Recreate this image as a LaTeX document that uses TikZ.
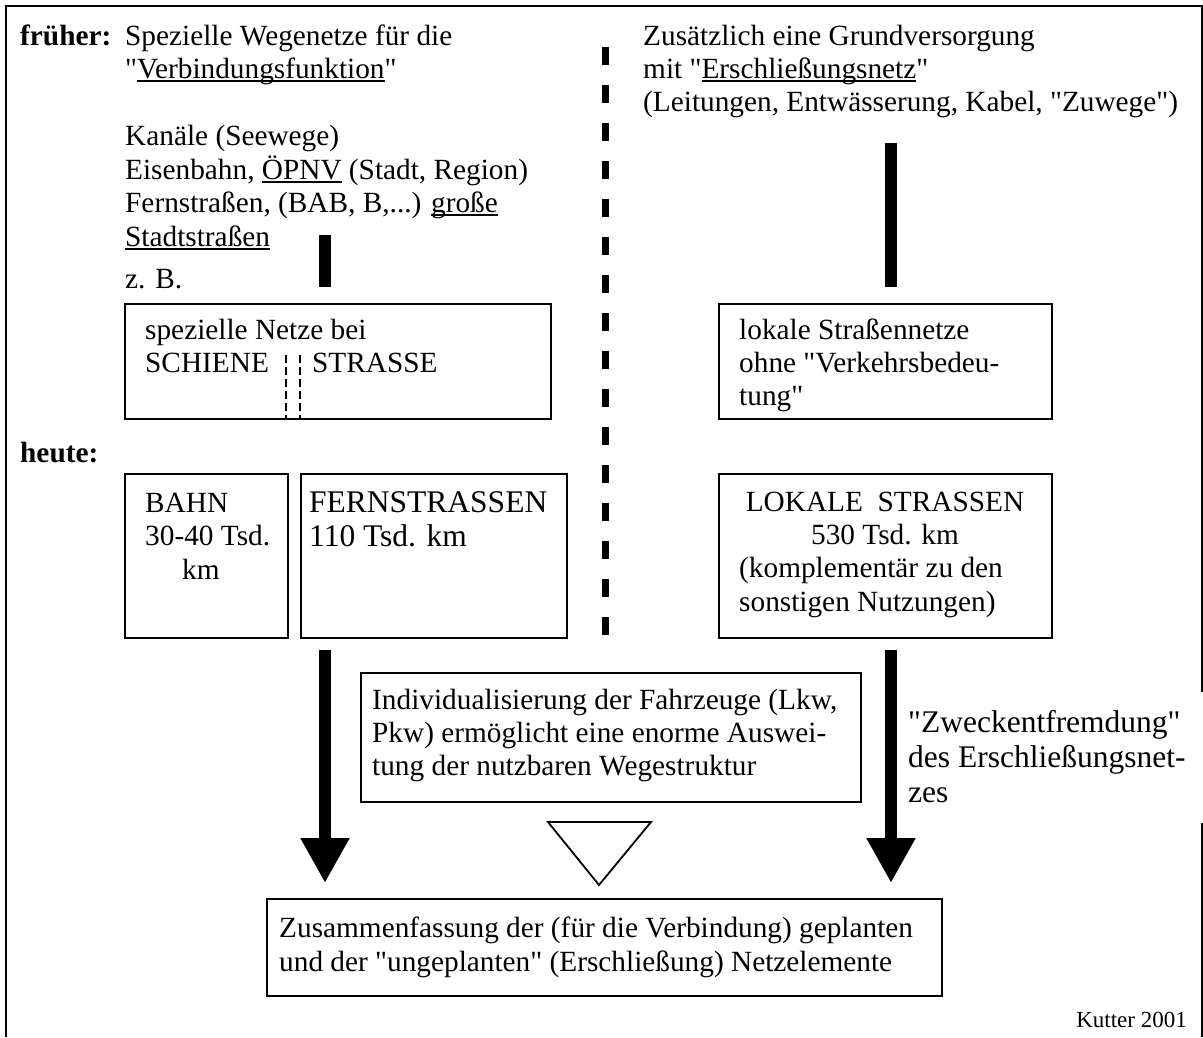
\documentclass[tikz,border=0pt]{standalone}
\usepackage{fontspec}
\setmainfont{Liberation Serif}
\usetikzlibrary{arrows.meta}
\newcommand\myul[1]{\leavevmode\setbox0\hbox{#1}\rlap{\rule[-4pt]{\wd0}{1.7pt}}\box0\relax}
\newcommand\qt{\XeTeXglyph\XeTeXcharglyph"22\relax}
\tikzset{
  txt/.style={inner sep=0pt, anchor=base west, font=\fontsize{29.3pt}{33.5pt}\selectfont},
  txtb/.style={txt, font=\fontsize{29.3pt}{33.5pt}\selectfont\bfseries},
  txtl/.style={txt, font=\fontsize{31.5pt}{35pt}\selectfont},
  txts/.style={txt, font=\fontsize{23pt}{26pt}\selectfont},
  boxe/.style={draw, line width=1.8pt, inner sep=0pt, anchor=north west},
  thickbar/.style={line width=12pt},
  bigarrow/.style={line width=12pt, -{Triangle[width=46pt,length=45pt]}},
  divider/.style={line width=7pt, dash pattern=on 18pt off 20pt},
  thindash/.style={line width=1.3pt, dash pattern=on 8pt off 4pt},
  outline/.style={line width=2pt},
}
\begin{document}
\begin{tikzpicture}[x=1pt,y=-1pt]
\useasboundingbox (0,0) rectangle (1203,1037);
% outer frame
\draw[outline] (6,1037) -- (6,6) -- (1202,6) -- (1202,692);
\draw[outline] (1202,823) -- (1202,1037);

% divider
\coordinate (divtop) at (605,47);
\coordinate (divbot) at (605,640);
\draw[divider] (divtop) -- (divbot);

% top left text
\node[txtb] (frueher) at (20,45) {früher:};
\node[txt] (l1) at (125,45) {Spezielle Wegenetze für die};
\node[txt] (l2) at (125,78) {\qt\myul{Verbindungsfunktion}\qt};
\node[txt] (l3) at (125,145) {Kanäle (Seewege)};
\node[txt] (l4) at (125,179) {Eisenbahn, \myul{ÖPNV} (Stadt, Region)};
\node[txt] (l5) at (125,212) {Fernstraßen, (BAB, B,...) \myul{große}};
\node[txt] (l6) at (125,246) {\myul{Stadtstraßen}};
\node[txt] (l7) at (125,288) {z. B.};

% top right text
\node[txt] (r1) at (643,45) {Zusätzlich eine Grundversorgung};
\node[txt] (r2) at (643,78) {mit \qt\myul{Erschließungsnetz}\qt};
\node[txt] (r3) at (643,111) {(Leitungen, Entwässerung, Kabel, \qt Zuwege\qt)};

% boxes row 1
\node[boxe, minimum width=426pt, minimum height=115pt] (spez) at (124,303) {};
\node[txt] (s1) at (145,339) {spezielle Netze bei};
\node[txt] (s2) at (145,372) {SCHIENE};
\node[txt] (s3) at (312,372) {STRASSE};
\coordinate (da1) at (286,355);
\coordinate (da2) at (286,418);
\coordinate (db1) at (300,355);
\coordinate (db2) at (300,418);
\draw[thindash] (da1) -- (da2);
\draw[thindash] (db1) -- (db2);

\node[boxe, minimum width=333pt, minimum height=115pt] (lokal) at (718,303) {};
\node[txt] (k1) at (739,339) {lokale Straßennetze};
\node[txt] (k2) at (739,372) {ohne \qt Verkehrsbedeu-};
\node[txt] (k3) at (739,405) {tung\qt};

% bars
\coordinate (barLtop) at (325,235);
\coordinate (barLbot) at (325,287);
\draw[thickbar] (barLtop) -- (barLbot);
\coordinate (barRtop) at (891,143);
\coordinate (barRbot) at (891,287);
\draw[thickbar] (barRtop) -- (barRbot);

% heute
\node[txtb] (heute) at (20,462) {heute:};

\node[boxe, minimum width=163pt, minimum height=164pt] (bahn) at (124,473) {};
\node[txt] (b1) at (145,512) {BAHN};
\node[txt] (b2) at (145,545) {30-40 Tsd.};
\node[txt] (b3) at (182,579) {km};

\node[boxe, minimum width=266pt, minimum height=164pt] (fern) at (300,473) {};
\node[txtl] (f1) at (309,512) {FERNSTRASSEN};
\node[txtl] (f2) at (309,546) {110 Tsd. km};

\node[boxe, minimum width=333pt, minimum height=164pt] (lokstr) at (718,473) {};
\node[txt, anchor=base] (o1) at (885,511) {LOKALE\ \ STRASSEN};
\node[txt, anchor=base] (o2) at (885,544) {530 Tsd. km};
\node[txt] (o3) at (739,577) {(komplementär zu den};
\node[txt] (o4) at (739,611) {sonstigen Nutzungen)};

% middle box
\node[boxe, minimum width=500pt, minimum height=129pt] (indiv) at (360,672) {};
\node[txt] (i1) at (372,709) {Individualisierung der Fahrzeuge (Lkw,};
\node[txt] (i2) at (372,742) {Pkw) ermöglicht eine enorme Auswei-};
\node[txt] (i3) at (372,775) {tung der nutzbaren Wegestruktur};

% arrows
\coordinate (aLs) at (325,650);
\coordinate (aLe) at (325,883);
\coordinate (aRs) at (891,650);
\coordinate (aRe) at (891,883);
\draw[bigarrow] (aLs) -- (aLe);
\draw[bigarrow] (aRs) -- (aRe);

% triangle
\draw[line width=1.8pt, fill=white] (548,822) -- (651,822) -- (599,885) -- cycle;

% right label
\node[txtl] (z1) at (908,732) {\qt Zweckentfremdung\qt};
\node[txtl] (z2) at (908,767) {des Erschließungsnet-};
\node[txtl] (z3) at (908,802) {zes};

% bottom box
\node[boxe, minimum width=675pt, minimum height=97pt] (zus) at (266,898) {};
\node[txt] (u1) at (279,937) {Zusammenfassung der (für die Verbindung) geplanten};
\node[txt] (u2) at (279,971) {und der \qt ungeplanten\qt{} (Erschließung) Netzelemente};

\node[txts, anchor=base east] (src) at (1187,1027) {Kutter 2001};
\end{tikzpicture}
\end{document}
